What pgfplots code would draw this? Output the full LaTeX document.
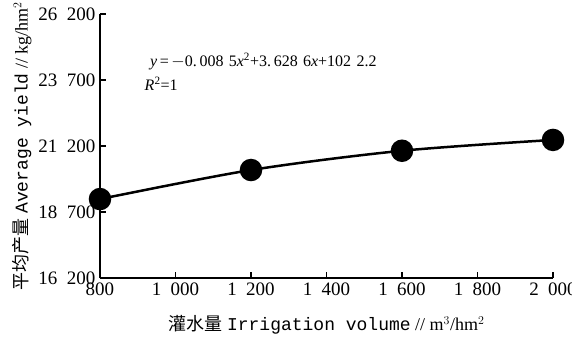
\documentclass[border=0pt]{standalone}
\usepackage{pgfplots}
\pgfplotsset{compat=1.18}
\usepackage{fontspec}
\setmainfont{Liberation Serif}
\newfontfamily\cjk{Noto Sans CJK SC}
\newfontfamily\mono{Liberation Mono}
\begin{document}
\begin{tikzpicture}
\begin{axis}[
  scale only axis, width=453bp, height=264bp,
  xmin=800, xmax=2000, ymin=16200, ymax=26200,
  xtick={800,1000,1200,1400,1600,1800,2000},
  ytick={16200,18700,21200,23700,26200},
  scaled ticks=false,
  axis lines=left, axis line style={-, line width=1.5bp},
  tick style={black, line width=1.2bp}, tick align=inside, major tick length=6bp,
  /pgf/number format/.cd, 1000 sep={\hspace{0.5em}}, assume math mode=true, /pgfplots/.cd,
  ticklabel style={font=\fontsize{19bp}{22bp}\selectfont},
  xticklabel style={yshift=-1bp},
  yticklabel style={xshift=-1bp},
  xlabel={{\cjk 灌水量} {\mono Irrigation volume} // m$^3$/hm$^2$},
  ylabel={{\cjk 平均产量} {\mono Average yield} // kg/hm$^2$},
  label style={font=\fontsize{18bp}{20bp}\selectfont},
  xlabel style={at={(axis description cs:0.5,-0.178)}, anchor=center},
  ylabel style={at={(axis description cs:-0.172,0.5)}, anchor=center},
  clip=false,
]
\addplot[black, line width=2.5bp, smooth, mark=*, mark size=10bp, mark options={fill=black, solid}]
coordinates {(800,19190) (1200,20290) (1600,21020) (2000,21430)};
\node[anchor=base west, font=\fontsize{16bp}{18bp}\selectfont, inner sep=0pt] at (axis cs:932,24200)
  {\textit{y}\,=\,$-$0.\,008\,\,5\textit{x}\textsuperscript{2}+3.\,628\,\,6\textit{x}+102\,\,2.2};
\node[anchor=base west, font=\fontsize{16bp}{18bp}\selectfont, inner sep=0pt] at (axis cs:918,23300)
  {\textit{R}\textsuperscript{2}=1};
\coordinate (O) at (rel axis cs:0,0);
\end{axis}
\pgfresetboundingbox
\path (O) ++(-100bp,-62bp) rectangle ++(572bp,340bp);
\end{tikzpicture}
\end{document}
